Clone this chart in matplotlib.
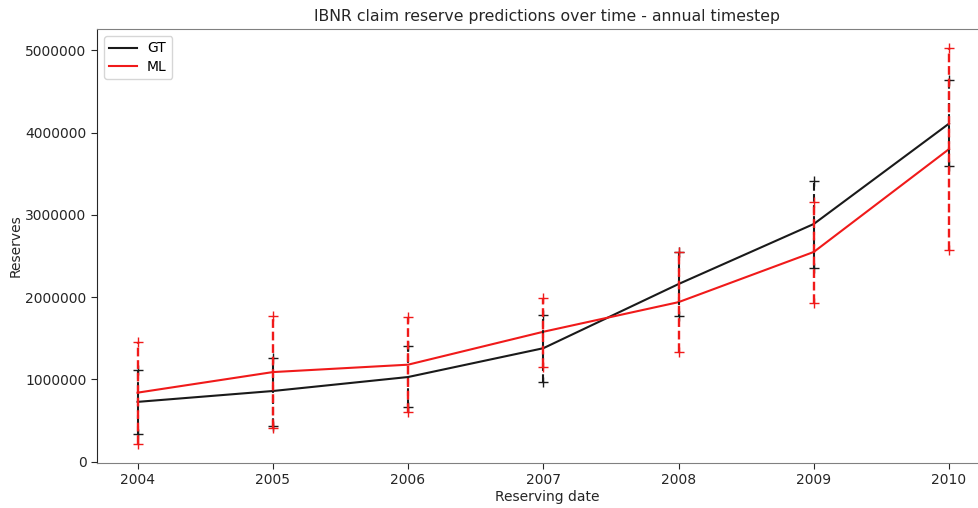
import matplotlib
matplotlib.use("Agg")
import matplotlib.pyplot as plt
import numpy as np

years = [2004, 2005, 2006, 2007, 2008, 2009, 2010]

gt_mean = [728000, 860000, 1030000, 1380000, 2160000, 2890000, 4110000]
gt_upper = [1120000, 1260000, 1410000, 1780000, 2550000, 3410000, 4640000]
gt_lower = [340000, 440000, 660000, 970000, 1770000, 2350000, 3590000]

ml_mean = [840000, 1090000, 1180000, 1580000, 1940000, 2550000, 3800000]
ml_upper = [1460000, 1770000, 1760000, 1990000, 2550000, 3160000, 5030000]
ml_lower = [220000, 410000, 610000, 1150000, 1330000, 1930000, 2570000]

gt_color = "#1a1a1a"
ml_color = "#f01a1a"

fig = plt.figure(figsize=(9.79, 5.08), dpi=100)
ax = fig.add_axes([97 / 979, 45 / 508, (997 - 97) / 979, (463 - 29) / 508])

ax.plot(years, gt_mean, color=gt_color, linewidth=1.5, label="GT")
ax.plot(years, ml_mean, color=ml_color, linewidth=1.5, label="ML")

for yr, lo, hi in zip(years, gt_lower, gt_upper):
    ax.plot([yr, yr], [lo, hi], linestyle="--", color=gt_color, marker="+",
            markersize=6.5, linewidth=1.5)
for yr, lo, hi in zip(years, ml_lower, ml_upper):
    ax.plot([yr, yr], [lo, hi], linestyle="--", color=ml_color, marker="+",
            markersize=6.5, linewidth=1.7)

ax.set_xlim(2003.7, 2010.355)
ax.set_ylim(-15000, 5260000)
ax.set_xticks(years)
ax.set_yticks([0, 1000000, 2000000, 3000000, 4000000, 5000000])
ax.ticklabel_format(axis="y", style="plain", useOffset=False)
ax.tick_params(colors="#262626", labelsize=10, length=4)

for side in ["top", "right", "bottom"]:
    ax.spines[side].set_color("#808080")
ax.spines["left"].set_color("#262626")

ax.set_title("IBNR claim reserve predictions over time - annual timestep",
             fontsize=11.3, color="#262626")
ax.set_xlabel("Reserving date", fontsize=10, color="#262626", labelpad=1.5)
ax.set_ylabel("Reserves", fontsize=10, color="#262626", labelpad=2)
ax.legend(loc="upper left", fontsize=10, borderaxespad=0.5,
          handletextpad=0.7, labelspacing=0.3)

fig.savefig("out.png", dpi=100)
